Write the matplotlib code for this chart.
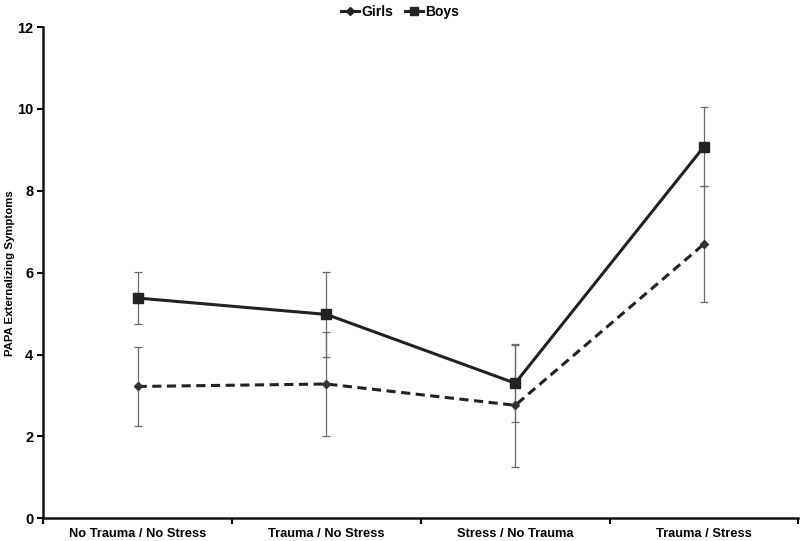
import matplotlib
matplotlib.use('Agg')
import matplotlib.pyplot as plt
import numpy as np

plt.rcParams['font.family'] = ['Liberation Sans', 'DejaVu Sans']
plt.rcParams['font.weight'] = 'bold'

# data
categories = ['No Trauma / No Stress', 'Trauma / No Stress',
              'Stress / No Trauma', 'Trauma / Stress']
girls = [3.22, 3.28, 2.76, 6.70]
girls_err = [0.97, 1.28, 1.50, 1.42]
boys = [5.38, 4.98, 3.30, 9.08]
boys_err = [0.63, 1.03, 0.94, 0.96]

INK = '#222222'
ERR = '#6a6a6a'

fig = plt.figure(figsize=(8, 5.41), dpi=100)
ax = fig.add_axes([0.054, 0.042, 0.944, 0.908])

x = np.arange(len(categories)) + 0.5

ax.errorbar(x, girls, yerr=girls_err, fmt='none', ecolor=ERR,
            elinewidth=0.9, capsize=3, capthick=0.9, zorder=2)
ax.errorbar(x, boys, yerr=boys_err, fmt='none', ecolor=ERR,
            elinewidth=0.9, capsize=3, capthick=0.9, zorder=2)

ax.plot(x, girls, color=INK, lw=2.2, ls=(0, (3, 1.8)), marker='D',
        markersize=4.5, markerfacecolor='#333333', markeredgecolor='#333333',
        zorder=3)
ax.plot(x, boys, color=INK, lw=2.2, marker='s', markersize=6.5,
        markerfacecolor=INK, markeredgecolor=INK, zorder=3)

# legend uses solid lines for both series
h_g, = ax.plot([], [], color=INK, lw=2.2, marker='D', markersize=4.5)
h_b, = ax.plot([], [], color=INK, lw=2.2, marker='s', markersize=6)
fig.legend([h_g, h_b], ['Girls', 'Boys'], loc='upper center',
           bbox_to_anchor=(0.5, 1.014), ncol=2, frameon=False,
           handlelength=1.3, handletextpad=0.2, columnspacing=0.8,
           prop={'weight': 'bold', 'size': 10})

ax.set_xlim(0, len(categories))
ax.set_ylim(0, 12)
ax.set_yticks(np.arange(0, 13, 2))
ax.set_xticks(np.arange(0, len(categories) + 1))
ax.set_xticklabels([])
ax.set_xticks(x, minor=True)
ax.set_xticklabels(categories, minor=True, fontsize=9.3, fontweight='bold')
ax.tick_params(axis='x', which='minor', length=0, pad=7)
ax.tick_params(axis='x', which='major', length=4, width=1.5, direction='out')
ax.tick_params(axis='y', length=4, width=1.5, direction='out', labelsize=10.5,
               pad=3)
for lab in ax.get_yticklabels():
    lab.set_fontweight('bold')

for s in ['top', 'right']:
    ax.spines[s].set_visible(False)
for s in ['left', 'bottom']:
    ax.spines[s].set_linewidth(1.8)
    ax.spines[s].set_color('#111111')

ax.set_ylabel('PAPA Externalizing Symptoms', fontsize=8.2, fontweight='bold')
ax.yaxis.set_label_coords(-0.038, 0.5)

fig.savefig('out.png', dpi=100, facecolor='white')
